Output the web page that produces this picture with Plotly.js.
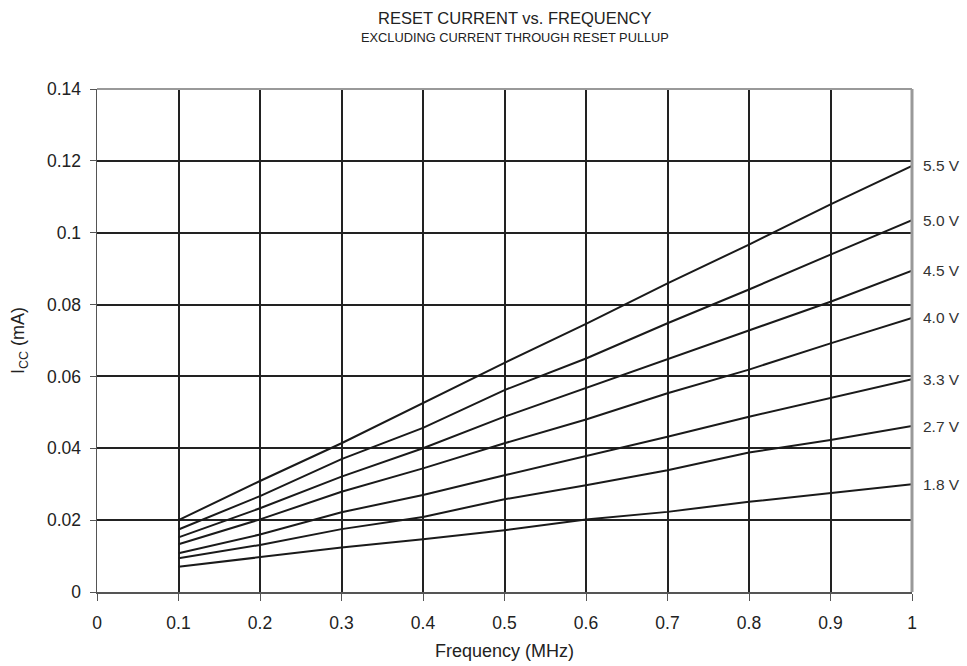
<!DOCTYPE html>
<html>
<head>
<meta charset="utf-8">
<script src="https://cdn.plot.ly/plotly-3.0.1.min.js"></script>
<style>html,body{margin:0;padding:0;background:#fff;}#chart{width:967px;height:666px;}</style>
</head>
<body>
<div id="chart"></div>
<script>
const freq = [0.1, 0.2, 0.3, 0.4, 0.5, 0.6, 0.7, 0.8, 0.9, 1.0];
const v55 = [0.0200, 0.0309, 0.0414, 0.0527, 0.0638, 0.0746, 0.0859, 0.0967, 0.1079, 0.1186];
const v50 = [0.0174, 0.0267, 0.0370, 0.0457, 0.0562, 0.0650, 0.0748, 0.0842, 0.0939, 0.1035];
const v45 = [0.0152, 0.0233, 0.0321, 0.0400, 0.0488, 0.0568, 0.0650, 0.0729, 0.0808, 0.0894];
const v40 = [0.0133, 0.0202, 0.0279, 0.0344, 0.0414, 0.0480, 0.0553, 0.0619, 0.0692, 0.0763];
const v33 = [0.0108, 0.0160, 0.0222, 0.0270, 0.0325, 0.0378, 0.0432, 0.0488, 0.0539, 0.0592];
const v27 = [0.0094, 0.0131, 0.0175, 0.0209, 0.0258, 0.0297, 0.0339, 0.0388, 0.0423, 0.0462];
const v18 = [0.0070, 0.0097, 0.0124, 0.0147, 0.0172, 0.0202, 0.0223, 0.0251, 0.0275, 0.0300];
const seriesNames = ['5.5 V', '5.0 V', '4.5 V', '4.0 V', '3.3 V', '2.7 V', '1.8 V'];
const seriesValues = [v55, v50, v45, v40, v33, v27, v18];
const xTicks = [0, 0.1, 0.2, 0.3, 0.4, 0.5, 0.6, 0.7, 0.8, 0.9, 1];
const xTickText = ['0', '0.1', '0.2', '0.3', '0.4', '0.5', '0.6', '0.7', '0.8', '0.9', '1'];
const yTicks = [0, 0.02, 0.04, 0.06, 0.08, 0.1, 0.12, 0.14];
const yTickText = ['0', '0.02', '0.04', '0.06', '0.08', '0.1', '0.12', '0.14'];

const font = 'Liberation Sans, Arial, sans-serif';
const traces = seriesValues.map((vals, i) => ({
  x: freq, y: vals, type: 'scatter', mode: 'lines', name: seriesNames[i],
  line: {color: '#1a1a1a', width: 2}, showlegend: false, hoverinfo: 'skip'
}));

const annotations = seriesValues.map((vals, i) => ({
  x: freq[freq.length - 1], y: vals[vals.length - 1], xref: 'x', yref: 'y',
  text: seriesNames[i], showarrow: false, xanchor: 'left', yanchor: 'middle',
  xshift: 9, font: {family: font, size: 15.5, color: '#333'}
}));
annotations.push({
  xref: 'paper', yref: 'paper', x: 0.5125, y: 1, yshift: 71, xanchor: 'center', yanchor: 'middle',
  text: 'RESET CURRENT vs. FREQUENCY', showarrow: false, font: {family: font, size: 16.5, color: '#222'}
});
annotations.push({
  xref: 'paper', yref: 'paper', x: 0.5125, y: 1, yshift: 52, xanchor: 'center', yanchor: 'middle',
  text: 'EXCLUDING CURRENT THROUGH RESET PULLUP', showarrow: false, font: {family: font, size: 12.8, color: '#222'}
});

const layout = {
  width: 967, height: 666,
  margin: {l: 97, r: 55, t: 89, b: 74},
  paper_bgcolor: '#fff', plot_bgcolor: '#fff',
  font: {family: font, color: '#222'},
  showlegend: false,
  xaxis: {
    range: [0, 1], tickvals: xTicks, ticktext: xTickText,
    showgrid: true, gridcolor: '#222', gridwidth: 2,
    showline: true, linecolor: '#555', linewidth: 2, mirror: false,
    ticks: 'outside', ticklen: 7, tickcolor: '#555', tickwidth: 1,
    ticklabelstandoff: 7,
    tickfont: {family: font, size: 17.5, color: '#222'},
    zeroline: false, fixedrange: true,
    title: {text: 'Frequency (MHz)', font: {family: font, size: 18, color: '#222'}, standoff: 12}
  },
  yaxis: {
    range: [0, 0.14], tickvals: yTicks, ticktext: yTickText,
    showgrid: true, gridcolor: '#222', gridwidth: 2,
    showline: true, linecolor: '#555', linewidth: 1.5,
    ticks: 'outside', ticklen: 6, tickcolor: '#555', tickwidth: 1,
    ticklabelstandoff: 5,
    tickfont: {family: font, size: 17.5, color: '#222'},
    zeroline: false, fixedrange: true,
    title: {text: 'I<sub>CC</sub> (mA)', font: {family: font, size: 18, color: '#222'}, standoff: 17}
  },
  shapes: [
    {type: 'line', xref: 'paper', yref: 'paper', x0: 0, x1: 1, y0: 1, y1: 1, line: {color: '#999', width: 2}},
    {type: 'line', xref: 'paper', yref: 'paper', x0: 1, x1: 1, y0: 0, y1: 1, line: {color: '#999', width: 3}}
  ],
  annotations: annotations
};

Plotly.newPlot('chart', traces, layout, {displayModeBar: false, staticPlot: true});
</script>
</body>
</html>
